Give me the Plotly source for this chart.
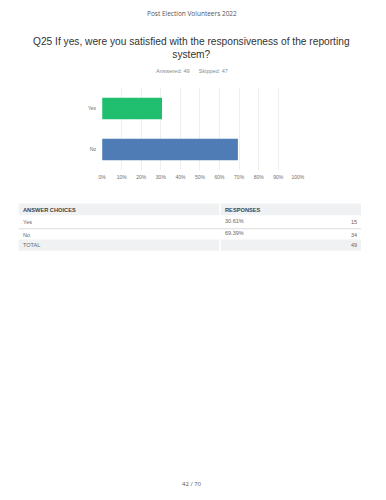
import plotly.graph_objects as go

header_text = "Post Election Volunteers 2022"
title_text = "Q25 If yes, were you satisfied with the responsiveness of the reporting<br>system?"
answered = 49
skipped = 47
categories = ["Yes", "No"]
percents = [30.61, 69.39]
counts = [15, 34]
bar_colors = ["#1fbf6f", "#507cb5"]
x_ticks = list(range(0, 101, 10))
x_tick_labels = [f"{t}%" for t in x_ticks]
page_label = "42 / 70"

W, H = 386, 500

def py(y):
    return 1 - y / H

def px(x):
    return x / W

fig = go.Figure()
fig.add_trace(go.Bar(
    y=categories, x=percents, orientation="h",
    marker=dict(color=bar_colors, line=dict(width=0)),
    hoverinfo="skip",
))

fig.update_layout(
    width=W, height=H,
    margin=dict(l=0, r=0, t=0, b=0),
    paper_bgcolor="white", plot_bgcolor="white",
    showlegend=False,
    bargap=0.47,
    font=dict(family="Liberation Sans, Arial, sans-serif", color="#666"),
    xaxis=dict(
        domain=[px(101), px(302.4)], range=[0, 100],
        tickvals=x_ticks, ticktext=x_tick_labels,
        showgrid=True, gridcolor="#eeeeee", gridwidth=1,
        zeroline=False, showline=False, ticks="",
        ticklabelstandoff=3,
        tickfont=dict(size=5, color="#6e6e6e"),
        fixedrange=True,
    ),
    yaxis=dict(
        domain=[py(170), py(88)],
        categoryorder="array", categoryarray=categories[::-1],
        showgrid=False, zeroline=False, showline=False, ticks="",
        ticklabelstandoff=5,
        tickfont=dict(size=5, color="#6e6e6e"),
        fixedrange=True,
    ),
)

def ann(text, x, y, font, xanchor="center", align="center"):
    return dict(text=text, x=x, y=y, xref="paper", yref="paper", showarrow=False,
                xanchor=xanchor, yanchor="middle", font=font, align=align)

gap = "&nbsp;" * 6
annotations = [
    ann(header_text, 0.5, py(13), dict(family="Open Sans, sans-serif", size=6.5, color="#555")),
    ann(title_text, 0.5, py(48.5), dict(family="Liberation Sans, Arial, sans-serif", size=10.2, color="#333")),
    ann(f"Answered: {answered}{gap}Skipped: {skipped}", 0.5, py(71),
        dict(size=5.5, color="#8a8a8a")),
    ann(page_label, 0.5, py(484), dict(family="Open Sans, sans-serif", size=6, color="#555")),
]

# table
left, mid, right = 15, 221.5, 367.5
rows_y = {"header": (203.5, 215.3), "total": (239.5, 250.8)}
shapes = []
for key in ("header", "total"):
    y0, y1 = rows_y[key]
    shapes.append(dict(type="rect", xref="paper", yref="paper",
                       x0=px(left), x1=px(mid), y0=py(y1), y1=py(y0),
                       fillcolor="#f0f1f2", line=dict(width=0), layer="below"))
    shapes.append(dict(type="rect", xref="paper", yref="paper",
                       x0=px(mid + 1.5), x1=px(right), y0=py(y1), y1=py(y0),
                       fillcolor="#f0f1f2", line=dict(width=0), layer="below"))
shapes.append(dict(type="line", xref="paper", yref="paper",
                   x0=px(left), x1=px(right), y0=py(228.8), y1=py(228.8),
                   line=dict(color="#dcdcdc", width=1)))

tfont = dict(size=5.5, color="#666")
hfont = dict(size=5.7, color="#444")
pad = 2.5
annotations += [
    ann("<b>ANSWER CHOICES</b>", px(left + pad), py(209.5), hfont, xanchor="left"),
    ann("<b>RESPONSES</b>", px(mid + pad + 1.5), py(209.5), hfont, xanchor="left"),
]

row_centers = [221.5, 234.5]
row_pct_y = [221.0, 232.8]
for cat, p, c, yc, yp in zip(categories, percents, counts, row_centers, row_pct_y):
    annotations.append(ann(cat, px(left + pad), py(yc), tfont, xanchor="left"))
    annotations.append(ann(f"{p:.2f}%", px(mid + pad + 1.5), py(yp), tfont, xanchor="left"))
    annotations.append(ann(str(c), px(right - 2), py(yc), tfont, xanchor="right"))
annotations.append(ann("TOTAL", px(left + pad), py(245.2), tfont, xanchor="left"))
annotations.append(ann(str(sum(counts)), px(right - 2), py(245.2), tfont, xanchor="right"))

fig.update_layout(annotations=annotations, shapes=shapes)
fig.write_html("out.html")
